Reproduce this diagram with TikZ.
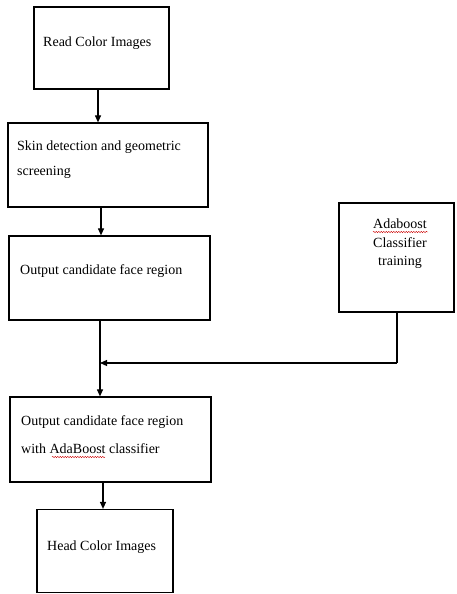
\documentclass[tikz,border=0pt]{standalone}
\usepackage{fontspec}
\setmainfont{Liberation Serif}
\usetikzlibrary{arrows.meta,decorations.pathmorphing}
\begin{document}
\begin{tikzpicture}[x=1pt,y=-1pt,
  box/.style={draw=black,line width=1.2pt,minimum width=#1,inner sep=0pt},
  txt/.style={anchor=base west,inner sep=0pt,font=\fontsize{14}{17}\selectfont},
  ctxt/.style={anchor=base,inner sep=0pt,font=\fontsize{14}{17}\selectfont},
  arr/.style={line width=1.1pt,-{Triangle[length=7pt,width=6pt]}},
  ln/.style={line width=1.1pt},
  squig/.style={red!80!black,line width=0.4pt,decorate,decoration={snake,amplitude=0.7pt,segment length=2.5pt}}]
\useasboundingbox (0,0) rectangle (456,594);
% boxes
\node[box=135pt,minimum height=82pt] (b1) at (101.5,48) {};
\node[box=200pt,minimum height=84pt] (b2) at (108,165) {};
\node[box=201pt,minimum height=84pt] (b3) at (109.5,278) {};
\node[box=115pt,minimum height=109pt] (ada) at (396.5,257.5) {};
\node[box=201pt,minimum height=85pt] (b4) at (110.5,439.5) {};
\node[box=136pt,minimum height=83pt] (b5) at (105,551) {};
% texts
\node[txt] (t1) at (43,47) {Read Color Images};
\node[txt] (t2a) at (17,150) {Skin detection and geometric};
\node[txt] (t2b) at (17,175) {screening};
\node[txt] (t3) at (20,274) {Output candidate face region};
\node[txt] (t4a) at (21,425) {Output candidate  face region};
\node[txt] (t4b) at (21,453) {with AdaBoost classifier};
\node[txt] (t5) at (47,550) {Head Color Images};
\node[ctxt] (ta) at (400,228) {Adaboost};
\node[ctxt] (tb) at (400,247) {Classifier};
\node[ctxt] (tc) at (400,265) {training};
% spell-check squiggles
\draw[squig] (52,457) -- (105,457);
\draw[squig] (373,232) -- (428,232);
% connectors
\coordinate (xa) at (98,0);
\coordinate (xb) at (101,0);
\coordinate (xc) at (100,0);
\coordinate (xd) at (103,0);
\coordinate (xe) at (397,0);
\coordinate (j) at (100,363);
\coordinate (k) at (397,363);
\draw[arr] (b1.south -| xa) -- (b2.north -| xa);
\draw[arr] (b2.south -| xb) -- (b3.north -| xb);
\draw[arr] (b3.south -| xc) -- (b4.north -| xc);
\draw[ln] (ada.south -| xe) -- (k);
\draw[arr] (k) -- (j);
\draw[arr] (b4.south -| xd) -- (b5.north -| xd);
\end{tikzpicture}
\end{document}
